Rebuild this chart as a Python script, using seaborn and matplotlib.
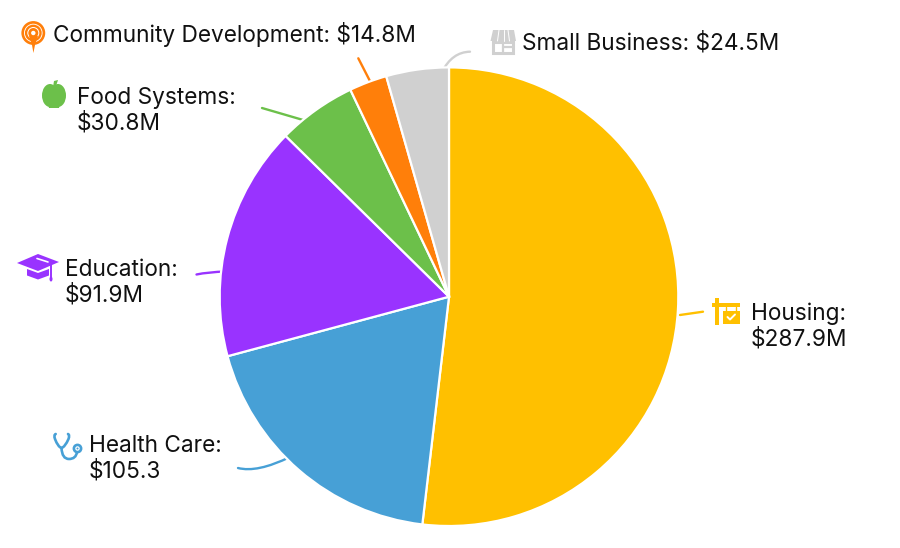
import matplotlib
matplotlib.use("Agg")
import matplotlib.pyplot as plt
from matplotlib.patches import Circle, Ellipse, Polygon, Rectangle, PathPatch
from matplotlib.path import Path
import seaborn as sns

categories = ["Housing", "Health Care", "Education", "Food Systems", "Community Development", "Small Business"]
values = [287.9, 105.3, 91.9, 30.8, 14.8, 24.5]
colors = ["#FFC000", "#47A0D6", "#9933FF", "#6CC04A", "#FF7F0A", "#D0D0D0"]
labels = ["Housing:\n$287.9M", "Health Care:\n$105.3", "Education:\n$91.9M", "Food Systems:\n$30.8M",
          "Community Development: $14.8M", "Small Business: $24.5M"]
label_pos = [(751, 320), (89, 452), (65, 276), (77, 104), (53, 42), (522, 50)]

sns.set_theme(style="white")
plt.rcParams["font.family"] = ["Inter", "DejaVu Sans"]

W, H = 900, 548
fig = plt.figure(figsize=(W / 100, H / 100), dpi=100, facecolor="white")
ax = fig.add_axes([0, 0, 1, 1])
Y = lambda y: H - y

ax.pie(values, colors=sns.color_palette(colors), startangle=90, counterclock=False,
       center=(449, Y(296.7)), radius=229.3, wedgeprops=dict(edgecolor="white", linewidth=1.6, zorder=3))
ax.set_xlim(0, W)
ax.set_ylim(0, H)
ax.set_aspect("equal")
ax.axis("off")


def curve(pts, color, lw=1.7, fill="none", z=2):
    codes = [Path.MOVETO] + [Path.CURVE3] * (len(pts) - 1)
    ax.add_patch(PathPatch(Path([(x, Y(y)) for x, y in pts], codes), fc=fill, ec=color, lw=lw, zorder=z, capstyle="round"))


def poly(pts, color, z=4, **kw):
    ax.add_patch(Polygon([(x, Y(y)) for x, y in pts], closed=True, fc=color, ec="none", zorder=z, **kw))


def line(pts, color, lw=1.7, z=2):
    ax.plot([p[0] for p in pts], [Y(p[1]) for p in pts], color=color, lw=lw, zorder=z, solid_capstyle="round")


# leader lines
line([(680, 315), (703, 311.7)], colors[0])
curve([(290, 457), (257, 473), (238, 468)], colors[1])
curve([(226, 271.5), (208, 272), (196.5, 274.5)], colors[2])
line([(262, 108), (310, 122)], colors[3])
line([(358.3, 58.3), (372, 85)], colors[4])
curve([(442, 72), (452, 52), (470, 51.7)], colors[5])

# labels
for txt, (x, y) in zip(labels, label_pos):
    lines = txt.split("\n")
    for i, part in enumerate(lines):
        ax.text(x, Y(y + i * 26), part, fontsize=16.3, color="#111111", ha="left", va="baseline", zorder=5)

# Housing icon
gold = colors[0]
ax.add_patch(Rectangle((715, Y(325)), 3.6, 27, fc=gold, ec="none", zorder=4))
ax.add_patch(Rectangle((712, Y(307)), 28, 4, fc=gold, ec="none", zorder=4))
ax.add_patch(Rectangle((723, Y(323.5)), 16.5, 12.5, fc=gold, ec="none", zorder=4))
line([(726, 307), (726, 311)], gold, 1, 4)
line([(736, 307), (736, 311)], gold, 1, 4)
line([(727.5, 317), (730, 319.5), (735, 314.5)], "white", 1.4, 5)

# Stethoscope icon
blue = colors[1]
curve([(55.7, 434), (53.5, 435), (55, 439), (58, 447), (61.5, 448), (65, 447), (68.5, 439), (70, 435), (68, 434)], blue, 1.9, z=4)
curve([(61.5, 448), (62, 459), (69, 459), (76, 459), (77, 452)], blue, 1.9, z=4)
ax.add_patch(Circle((77.5, Y(448.5)), 3.6, fc="white", ec=blue, lw=1.9, zorder=4))
ax.add_patch(Circle((77.5, Y(448.5)), 1.0, fc=blue, ec="none", zorder=5))

# Education icon
purple = colors[2]
poly([(17, 263), (38, 254), (59, 262), (38, 271)], purple)
poly([(27, 269), (38, 273), (49, 269), (49, 275.5), (38, 279.5), (27, 275.5)], purple)
line([(51, 264), (51, 277)], purple, 1.4, 4)
ax.add_patch(Ellipse((51, Y(279)), 3, 5, fc=purple, ec="none", zorder=4))
line([(37, 258.5), (48, 262)], "white", 1.2, 5)

# Apple icon
green = colors[3]
ax.add_patch(Ellipse((50, Y(95.5)), 16, 23, fc=green, ec="none", zorder=4))
ax.add_patch(Ellipse((58, Y(95.5)), 16, 23, fc=green, ec="none", zorder=4))
poly([(47, 100), (61, 100), (59, 108), (49, 108)], green)
poly([(53, 87), (54, 81), (58, 80), (56, 86)], green)

# Community icon
orange = colors[4]
ax.add_patch(Circle((33.3, Y(33)), 10.6, fc="white", ec=orange, lw=1.9, zorder=4))
ax.add_patch(Circle((33.3, Y(33)), 7.2, fc="white", ec=orange, lw=1.7, zorder=4))
poly([(29, 36), (38, 36), (35, 45), (33.4, 53), (32, 45)], orange, z=5)
ax.add_patch(Circle((33.3, Y(33)), 5.0, fc=orange, ec="none", zorder=5))
ax.add_patch(Circle((33.3, Y(33)), 2.2, fc="white", ec="none", zorder=6))

# Store icon
grey = colors[5]
poly([(493, 30), (514, 30), (516, 41), (490.5, 41)], grey)
for a, b in [(499, 497.5), (503.5, 503.5), (508, 509.5)]:
    line([(a, 30), (b, 41)], "white", 0.7, 5)
ax.add_patch(Rectangle((492.5, Y(53)), 20.5, 11, fc="none", ec=grey, lw=2.2, zorder=4))
line([(503, 43), (503, 53)], grey, 1.6, 4)
line([(503, 47), (513, 47)], grey, 1.6, 4)

fig.savefig("out.png", dpi=100, facecolor="white")
